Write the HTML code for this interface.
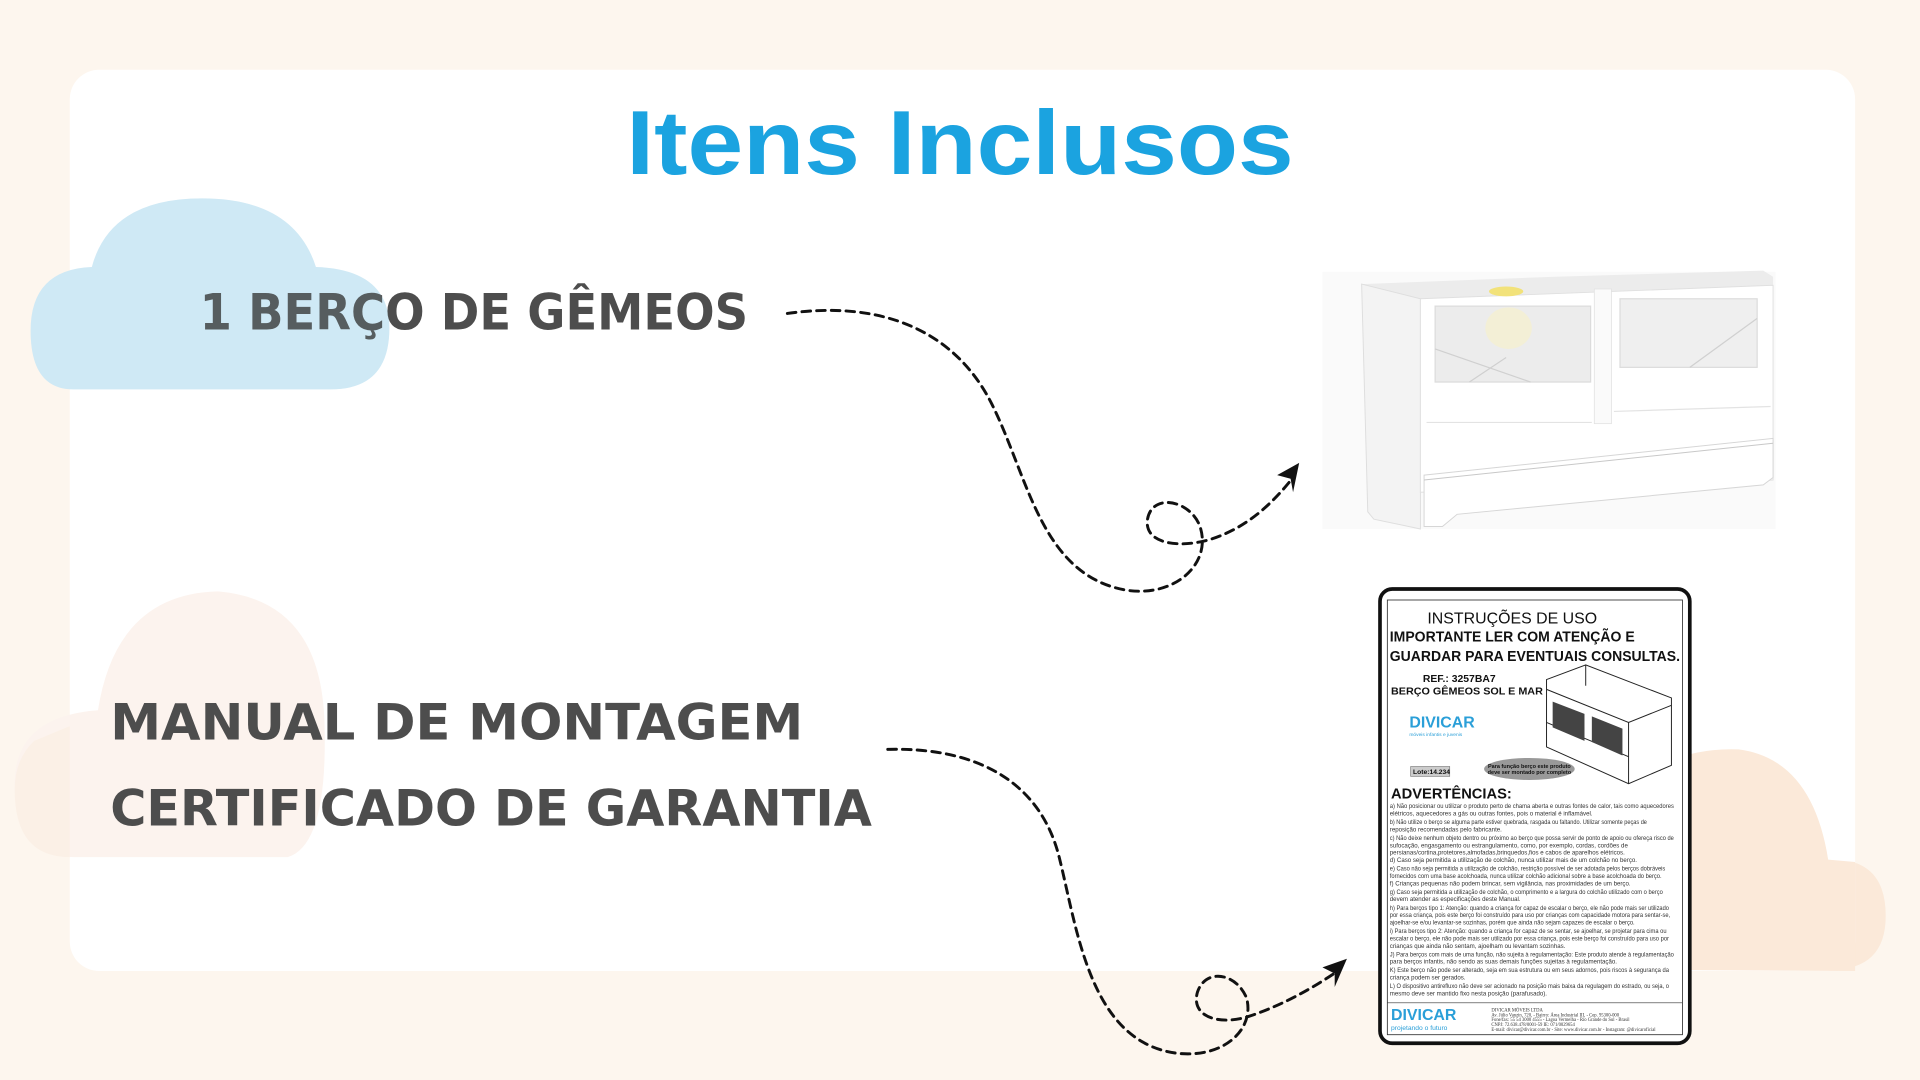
<!DOCTYPE html>
<html><head><meta charset="utf-8"><style>
html,body{margin:0;padding:0;background:#fdf6ee;}
svg{display:block}
</style></head><body>
<svg width="1920" height="1080" viewBox="0 0 1568 882" xmlns="http://www.w3.org/2000/svg">
<rect width="1568" height="882" fill="#fdf6ee"/>
<path d="M1330,792 L1330,640 Q1370,610 1420,612 Q1480,620 1493,702 Q1540,700 1540,748 Q1540,792 1495,792 Z" fill="#fbe9d9"/>
<rect x="57" y="57" width="1458" height="736" rx="24" fill="#ffffff"/>
<path d="M1330,792 L1330,640 Q1370,610 1420,612 Q1480,620 1493,702 L1515,704 L1515,793 Z" fill="#fbe9d9"/>
<!-- pink lower-left cloud -->
<path d="M60,700 Q12,700 12,640 Q12,585 80,580 Q95,485 178,483 Q262,490 265,590 Q268,690 235,700 Z" fill="#fcf3ee"/>
<path d="M28,605 Q12,620 12,645 Q12,700 57,700 L57,593 Z" fill="#fbf0e6"/>
<text x="784" y="142" text-anchor="middle" font-family="'Liberation Sans',sans-serif" font-weight="bold" font-size="74" fill="#1ba3e0" textLength="545" lengthAdjust="spacingAndGlyphs">Itens Inclusos</text>
<path d="M60,318 Q25,318 25,270 Q25,220 75,218 Q90,162 165,162 Q240,162 258,218 Q318,220 318,268 Q318,318 270,318 Z" fill="#d6ecf7"/>
<text x="163" y="269" font-family="'DejaVu Sans','Liberation Sans',sans-serif" font-weight="bold" font-size="41" fill="#4d4d4d" textLength="448" lengthAdjust="spacingAndGlyphs">1 BERÇO DE GÊMEOS</text>
<path d="M60,318 Q25,318 25,270 Q25,220 75,218 Q90,162 165,162 Q240,162 258,218 Q318,220 318,268 Q318,318 270,318 Z" fill="#9fd2ea" opacity="0.12"/>
<text x="90" y="604" font-family="'DejaVu Sans','Liberation Sans',sans-serif" font-weight="bold" font-size="41" fill="#4d4d4d" textLength="566" lengthAdjust="spacingAndGlyphs">MANUAL DE MONTAGEM</text>
<text x="90" y="674" font-family="'DejaVu Sans','Liberation Sans',sans-serif" font-weight="bold" font-size="41" fill="#4d4d4d" textLength="622" lengthAdjust="spacingAndGlyphs">CERTIFICADO DE GARANTIA</text>
<g fill="none" stroke="#111" stroke-width="2.4" stroke-dasharray="7 5" stroke-linecap="round">
<path d="M643,256 C720,245 780,270 810,330 C840,390 850,470 920,482 C960,488 990,460 980,430 C972,408 940,402 937,425 C935,445 965,448 990,440 C1020,430 1040,410 1056,390"/>
<path d="M725,612 C800,610 850,640 865,700 C880,760 890,850 960,860 C1000,865 1025,840 1018,815 C1010,795 985,790 978,810 C972,830 995,838 1020,830 C1050,820 1075,805 1094,792"/>
</g>
<path d="M1061,378 L1043,388 L1054,391 L1056,402 Z" fill="#111"/>
<path d="M1100,783 L1080,790 L1090,795 L1090,806 Z" fill="#111"/>
<!-- crib image -->
<rect x="1080" y="222" width="370" height="210" fill="#fafafa"/>
<polygon points="1112,232 1270,226 1440,221 1448,226 1448,233 1160,244" fill="#ececec"/>
<polygon points="1112,232 1160,244 1160,432 1122,424 1117,418" fill="#f3f3f3" stroke="#dedede" stroke-width="0.8"/>
<polygon points="1160,244 1448,233 1448,392 1160,402" fill="#ffffff" stroke="#e0e0e0" stroke-width="0.8"/>
<rect x="1172" y="250" width="127" height="62" fill="#ececec" stroke="#dcdcdc"/>
<rect x="1323" y="244" width="112" height="56" fill="#efefef" stroke="#dcdcdc"/>
<path d="M1172,285 L1250,312 M1200,312 L1230,292" stroke="#d0d0d0" stroke-width="1"/>
<path d="M1380,300 L1435,260" stroke="#d0d0d0" stroke-width="1"/>
<rect x="1302" y="236" width="14" height="110" fill="#fafafa" stroke="#e0e0e0" stroke-width="0.6"/>
<line x1="1165" y1="345" x2="1300" y2="345" stroke="#e3e3e3"/>
<line x1="1318" y1="336" x2="1446" y2="332" stroke="#e3e3e3"/>
<polygon points="1163,388 1448,358 1448,390 1440,396 1190,420 1178,430 1163,430" fill="#ffffff" stroke="#d6d6d6" stroke-width="0.8"/>
<line x1="1163" y1="392" x2="1448" y2="362" stroke="#c8c8c8" stroke-width="0.8"/>
<ellipse cx="1232" cy="268" rx="19" ry="17" fill="#f3efd6"/>
<ellipse cx="1230" cy="238" rx="14" ry="4" fill="#f2e27a"/>
<!-- manual -->
<rect x="1127" y="481" width="253" height="371" rx="10" fill="#fff" stroke="#111" stroke-width="3"/>
<rect x="1133" y="490" width="241" height="355" fill="none" stroke="#333" stroke-width="0.7"/>
<g font-family="'Liberation Sans',sans-serif" fill="#111">
<text x="1235" y="509" text-anchor="middle" font-size="13">INSTRUÇÕES DE USO</text>
<text x="1135" y="524" font-size="12" font-weight="bold" textLength="200" lengthAdjust="spacingAndGlyphs">IMPORTANTE LER COM ATENÇÃO E</text>
<text x="1135" y="540" font-size="12" font-weight="bold" textLength="237" lengthAdjust="spacingAndGlyphs">GUARDAR PARA EVENTUAIS CONSULTAS.</text>
<text x="1162" y="557" font-size="8.5" font-weight="bold">REF.: 3257BA7</text>
<text x="1136" y="567" font-size="8.5" font-weight="bold" textLength="124" lengthAdjust="spacingAndGlyphs">BERÇO GÊMEOS SOL E MAR</text>
<text x="1151" y="594" font-size="13" font-weight="bold" fill="#2a9fd8">DIVICAR</text>
<text x="1151" y="601" font-size="4" fill="#2a9fd8">móveis infantis e juvenis</text>
<rect x="1152" y="626" width="32" height="8" fill="#ccc" stroke="#555" stroke-width="0.4"/>
<text x="1154" y="632" font-size="5.5" font-weight="bold">Lote:14.234</text>
<ellipse cx="1249" cy="628" rx="37" ry="9" fill="#999"/>
<text x="1249" y="627" text-anchor="middle" font-size="4.5" font-weight="bold">Para função berço este produto</text>
<text x="1249" y="632" text-anchor="middle" font-size="4.5" font-weight="bold">deve ser montado por completo</text>
<text x="1136" y="652" font-size="12" font-weight="bold">ADVERTÊNCIAS:</text>
<g font-size="5" fill="#333">
<text x="1135" y="660" textLength="232" lengthAdjust="spacingAndGlyphs">a) Não posicionar ou utilizar o produto perto de chama aberta e outras fontes de calor, tais como aquecedores</text>
<text x="1135" y="666">elétricos, aquecedores a gás ou outras fontes, pois o material é inflamável.</text>
<text x="1135" y="673" textLength="210" lengthAdjust="spacingAndGlyphs">b) Não utilize o berço se alguma parte estiver quebrada, rasgada ou faltando. Utilizar somente peças de</text>
<text x="1135" y="679">reposição recomendadas pelo fabricante.</text>
<text x="1135" y="686" textLength="232" lengthAdjust="spacingAndGlyphs">c) Não deixe nenhum objeto dentro ou próximo ao berço que possa servir de ponto de apoio ou ofereça risco de</text>
<text x="1135" y="692">sufocação, engasgamento ou estrangulamento, como, por exemplo, cordas, cordões de</text>
<text x="1135" y="698">persianas/cortina,protetores,almofadas,brinquedos,fios e cabos de aparelhos elétricos.</text>
<text x="1135" y="704">d) Caso seja permitida a utilização de colchão, nunca utilizar mais de um colchão no berço.</text>
<text x="1135" y="711" textLength="225" lengthAdjust="spacingAndGlyphs">e) Caso não seja permitida a utilização de colchão, restrição possível de ser adotada pelos berços dobráveis</text>
<text x="1135" y="717" textLength="222" lengthAdjust="spacingAndGlyphs">fornecidos com uma base acolchoada, nunca utilizar colchão adicional sobre a base acolchoada do berço.</text>
<text x="1135" y="723">f) Crianças pequenas não podem brincar, sem vigilância, nas proximidades de um berço.</text>
<text x="1135" y="730" textLength="223" lengthAdjust="spacingAndGlyphs">g) Caso seja permitida a utilização de colchão, o comprimento e a largura do colchão utilizado com o berço</text>
<text x="1135" y="736">devem atender as especificações deste Manual.</text>
<text x="1135" y="743" textLength="228" lengthAdjust="spacingAndGlyphs">h) Para berços tipo 1: Atenção: quando a criança for capaz de escalar o berço, ele não pode mais ser utilizado</text>
<text x="1135" y="749" textLength="229" lengthAdjust="spacingAndGlyphs">por essa criança, pois este berço foi construído para uso por crianças com capacidade motora para sentar-se,</text>
<text x="1135" y="755" textLength="200" lengthAdjust="spacingAndGlyphs">ajoelhar-se e/ou levantar-se sozinhas, porém que ainda não sejam capazes de escalar o berço.</text>
<text x="1135" y="762" textLength="226" lengthAdjust="spacingAndGlyphs">i) Para berços tipo 2: Atenção: quando a criança for capaz de se sentar, se ajoelhar, se projetar para cima ou</text>
<text x="1135" y="768" textLength="228" lengthAdjust="spacingAndGlyphs">escalar o berço, ele não pode mais ser utilizado por essa criança, pois este berço foi construído para uso por</text>
<text x="1135" y="774">crianças que ainda não sentam, ajoelham ou levantam sozinhas.</text>
<text x="1135" y="781" textLength="232" lengthAdjust="spacingAndGlyphs">J) Para berços com mais de uma função, não sujeita à regulamentação: Este produto atende à regulamentação</text>
<text x="1135" y="787">para berços infantis, não sendo as suas demais funções sujeitas à regulamentação.</text>
<text x="1135" y="794" textLength="228" lengthAdjust="spacingAndGlyphs">K) Este berço não pode ser alterado, seja em sua estrutura ou em seus adornos, pois riscos à segurança da</text>
<text x="1135" y="800">criança podem ser gerados.</text>
<text x="1135" y="807" textLength="228" lengthAdjust="spacingAndGlyphs">L) O dispositivo antirefluxo não deve ser acionado na posição mais baixa da regulagem do estrado, ou seja, o</text>
<text x="1135" y="813">mesmo deve ser mantido fixo nesta posição (parafusado).</text>
</g>
<line x1="1133" y1="819" x2="1374" y2="819" stroke="#333" stroke-width="0.5"/>
<text x="1136" y="833" font-size="13" font-weight="bold" fill="#2a9fd8">DIVICAR</text>
<text x="1136" y="841" font-size="5.5" fill="#2a9fd8">projetando o futuro</text>
<g font-family="'Liberation Serif',serif" font-size="3.8" fill="#333">
<text x="1218" y="826">DIVICAR MÓVEIS LTDA</text>
<text x="1218" y="830">Av. Júlio Vanzin, 720, - Bairro: Área Industrial III, - Cep. 95300-000</text>
<text x="1218" y="834">Fone/fax: 55 54 3000 4555 - Lagoa Vermelha - Rio Grande do Sul - Brasil</text>
<text x="1218" y="838">CNPJ: 72.638.478/0001-59  IE: 071/0029654</text>
<text x="1218" y="842">E-mail: divicar@divicar.com.br - Site: www.divicar.com.br - Instagram: @divicaroficial</text>
</g>
</g>
<g fill="none" stroke="#222" stroke-width="0.8">
<path d="M1263,555 L1295,543 L1365,570 L1365,625 L1330,640 L1263,610 Z"/>
<path d="M1263,563 L1330,590 L1365,576"/>
<path d="M1330,590 L1330,640"/>
<path d="M1295,543 L1295,560"/>
<path d="M1263,590 L1330,618"/>
</g>
<path d="M1268,573 L1294,583 L1294,605 L1268,594 Z" fill="#444"/>
<path d="M1300,585 L1325,595 L1325,617 L1300,606 Z" fill="#444"/>
</svg>
</body></html>
